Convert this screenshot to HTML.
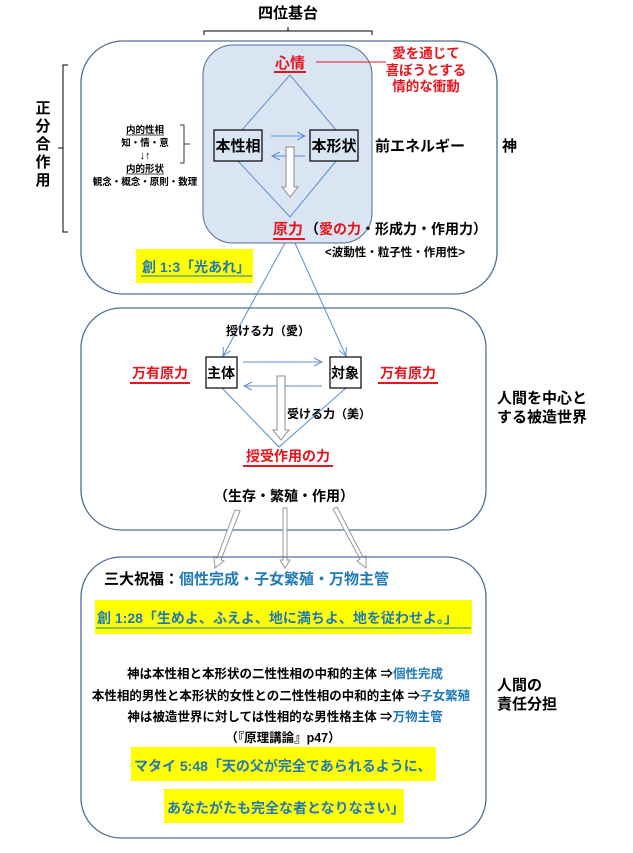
<!DOCTYPE html>
<html><head><meta charset="utf-8"><style>
html,body{margin:0;padding:0;background:#fff;}
svg{display:block;font-family:"Liberation Sans","Noto Sans CJK JP",sans-serif;font-weight:bold;}
</style></head><body>
<svg width="633" height="853" viewBox="0 0 633 853" xmlns="http://www.w3.org/2000/svg">
<defs>
<marker id="ah" markerWidth="10" markerHeight="10" refX="9" refY="5" orient="auto" markerUnits="userSpaceOnUse">
<path d="M1,1 L9,5 L1,9" fill="none" stroke="#5b8fd0" stroke-width="1"/>
</marker>
</defs>
<text x="288" y="18" font-size="15" text-anchor="middle" fill="#000">四位基台</text>
<path d="M204,35 V31 H372 V35 M288,31 V27" fill="none" stroke="#000" stroke-width="1"/>
<path d="M68,65 H63 V232 H68 M63,148 H58" fill="none" stroke="#000" stroke-width="1"/>
<g font-size="15" text-anchor="middle" fill="#000">
<text x="43" y="113">正</text><text x="43" y="131">分</text><text x="43" y="149">合</text><text x="43" y="167">作</text><text x="43" y="185">用</text>
</g>
<rect x="81" y="41" width="416" height="253" rx="42" fill="none" stroke="#4f6f93" stroke-width="1.3"/>
<rect x="203" y="45" width="169" height="198" rx="30" fill="#dae5f3" stroke="#4f6f93" stroke-width="1"/>
<text x="290" y="68" font-size="15" text-anchor="middle" fill="#e8141d">心情</text>
<line x1="274" y1="72" x2="306" y2="72" stroke="#e8141d" stroke-width="2"/>
<line x1="316" y1="62" x2="386" y2="62" stroke="#e8141d" stroke-width="1"/>
<g font-size="13.5" fill="#e8141d" text-anchor="middle">
<text x="426" y="58">愛を通じて</text><text x="426" y="75">喜ぼうとする</text><text x="426" y="91">情的な衝動</text>
</g>
<g stroke="#5b8fd0" stroke-width="1" fill="none">
<path d="M242,130 L290,75 L336,130"/>
<path d="M238,161 L290,217 L336,161"/>
<line x1="271" y1="136" x2="305" y2="136" marker-end="url(#ah)"/>
<line x1="305" y1="156" x2="272" y2="156" marker-end="url(#ah)"/>
</g>
<rect x="214" y="130" width="48" height="31" fill="none" stroke="#000" stroke-width="1.2"/>
<rect x="310" y="130" width="48" height="31" fill="none" stroke="#000" stroke-width="1.2"/>
<path d="M286,147 H294 V187 H298 L290,197 L282,187 H286 Z" fill="#fff" stroke="#888" stroke-width="1"/>
<text x="238" y="151" font-size="15" text-anchor="middle">本性相</text>
<text x="334" y="151" font-size="15" text-anchor="middle">本形状</text>
<text x="375" y="151" font-size="15">前エネルギー</text>
<text x="502" y="151" font-size="15">神</text>
<g font-size="9.5" text-anchor="middle">
<text x="145" y="133">内的性相</text><text x="145" y="146">知・情・意</text><text x="145" y="159" font-size="11">↓↑</text><text x="145" y="172">内的形状</text><text x="145" y="185">観念・概念・原則・数理</text>
</g>
<line x1="126" y1="135" x2="164" y2="135" stroke="#000" stroke-width="0.8"/>
<line x1="126" y1="174" x2="164" y2="174" stroke="#000" stroke-width="0.8"/>
<path d="M180,125 H184 V163 H180 M184,144 H190" fill="none" stroke="#000" stroke-width="0.8"/>
<text x="273" y="234" font-size="15" fill="#e8141d">原力</text>
<line x1="273" y1="239" x2="305" y2="239" stroke="#e8141d" stroke-width="2"/>
<text x="305" y="234" font-size="14"><tspan>（</tspan><tspan fill="#e8141d">愛の力</tspan><tspan>・形成力・作用力）</tspan></text>
<text x="325" y="256" font-size="11.5">&lt;波動性・粒子性・作用性&gt;</text>
<rect x="136" y="249" width="117" height="34" fill="#ffff00"/>
<text x="142" y="272" font-size="14" fill="#1f7ab5">創 1:3「光あれ」</text>
<line x1="141" y1="276" x2="252" y2="276" stroke="#1f7ab5" stroke-width="1"/>
<g stroke="#5b8fd0" stroke-width="1" fill="none">
<line x1="285" y1="243" x2="223" y2="356" marker-end="url(#ah)"/>
<line x1="295" y1="243" x2="346" y2="356" marker-end="url(#ah)"/>
</g>
<rect x="81" y="308" width="405" height="222" rx="40" fill="none" stroke="#4f6f93" stroke-width="1.3"/>
<text x="268" y="335" font-size="12" text-anchor="middle">授ける力（愛）</text>
<g stroke="#5b8fd0" stroke-width="1" fill="none">
<line x1="243" y1="362" x2="322" y2="362" marker-end="url(#ah)"/>
<line x1="322" y1="386" x2="244" y2="386" marker-end="url(#ah)"/>
<path d="M222,388 L279,447 L346,388"/>
</g>
<rect x="206" y="357" width="31" height="31" fill="none" stroke="#000" stroke-width="1.2"/>
<rect x="330" y="357" width="31" height="31" fill="none" stroke="#000" stroke-width="1.2"/>
<text x="221" y="378" font-size="14" text-anchor="middle">主体</text>
<text x="345" y="378" font-size="14" text-anchor="middle">対象</text>
<path d="M277,376 H285 V430 H289 L281,440 L273,430 H277 Z" fill="#fff" stroke="#888" stroke-width="1"/>
<text x="160" y="378" font-size="14" text-anchor="middle" fill="#e8141d">万有原力</text>
<line x1="130" y1="383" x2="190" y2="383" stroke="#e8141d" stroke-width="2"/>
<text x="408" y="378" font-size="14" text-anchor="middle" fill="#e8141d">万有原力</text>
<line x1="378" y1="383" x2="438" y2="383" stroke="#e8141d" stroke-width="2"/>
<text x="329" y="418" font-size="12" text-anchor="middle">受ける力（美）</text>
<text x="288" y="461" font-size="14" text-anchor="middle" fill="#e8141d">授受作用の力</text>
<line x1="243" y1="466" x2="333" y2="466" stroke="#e8141d" stroke-width="2"/>
<text x="284" y="501" font-size="14" text-anchor="middle">（生存・繁殖・作用）</text>
<g font-size="15">
<text x="497" y="403">人間を中心と</text><text x="497" y="422">する被造世界</text>
</g>
<g fill="#fff" stroke="#999" stroke-width="1">
<path d="M235,510 L240,511 L221,560 L224,561 L215,568 L214,557 L217,558 Z"/>
<path d="M283,508 H287 V560 H290 L285,568 L280,560 H283 Z"/>
<path d="M333,509 L337,507 L363,557 L366,556 L366,568 L357,561 L360,559 Z"/>
</g>
<rect x="81" y="557" width="405" height="281" rx="40" fill="none" stroke="#4f6f93" stroke-width="1.3"/>
<text x="104" y="584" font-size="15"><tspan>三大祝福：</tspan><tspan fill="#1f7ab5">個性完成・子女繁殖・万物主管</tspan></text>
<rect x="95" y="600" width="377" height="34" fill="#ffff00"/>
<text x="97" y="623" font-size="14" fill="#1f7ab5">創 1:28「生めよ、ふえよ、地に満ちよ、地を従わせよ。」</text>
<line x1="96" y1="628" x2="471" y2="628" stroke="#1f7ab5" stroke-width="1"/>
<g font-size="12.5" text-anchor="middle">
<text x="285" y="678">神は本性相と本形状の二性性相の中和的主体 ⇒<tspan fill="#1f7ab5">個性完成</tspan></text>
<text x="281" y="700">本性相的男性と本形状的女性との二性性相の中和的主体 ⇒<tspan fill="#1f7ab5">子女繁殖</tspan></text>
<text x="285" y="721">神は被造世界に対しては性相的な男性格主体 ⇒<tspan fill="#1f7ab5">万物主管</tspan></text>
<text x="283" y="742">（『原理講論』p47）</text>
</g>
<rect x="131" y="747" width="305" height="34" fill="#ffff00"/>
<text x="134" y="771" font-size="14" fill="#1f7ab5">マタイ 5:48「天の父が完全であられるように、</text>
<rect x="164" y="789" width="240" height="34" fill="#ffff00"/>
<text x="167" y="813" font-size="14" fill="#1f7ab5">あなたがたも完全な者となりなさい」</text>
<g font-size="15">
<text x="497" y="690">人間の</text><text x="497" y="709">責任分担</text>
</g>
</svg>
</body></html>
